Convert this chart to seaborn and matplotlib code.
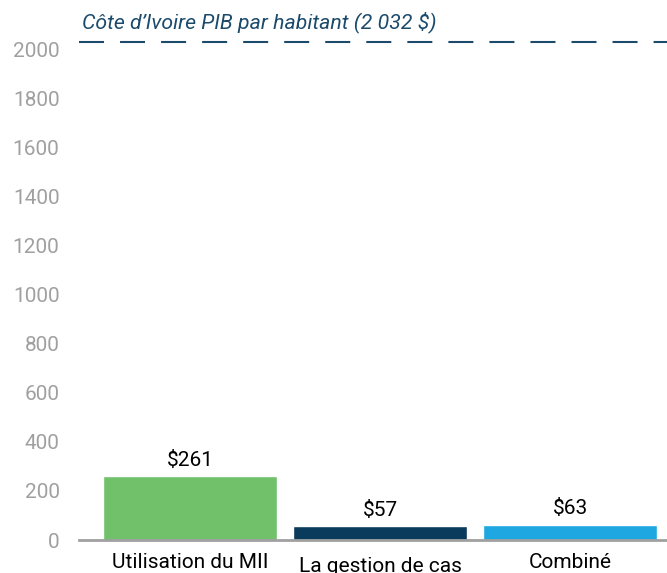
import numpy as np
import matplotlib
matplotlib.use('Agg')
import matplotlib.pyplot as plt
import matplotlib.transforms as mtransforms
import pandas as pd
import seaborn as sns

categories = ['Utilisation du MII', 'La gestion de cas', 'Combiné']
costs = [261, 57, 63]
bar_labels = ['$261', '$57', '$63']
gdp_per_capita = 2032
gdp_label = 'Côte d\u2019Ivoire PIB par habitant (2 032 $)'
yticks = [0, 200, 400, 600, 800, 1000, 1200, 1400, 1600, 1800, 2000]

colors = ['#70c16a', '#0a3a5c', '#1fa7e1']
navy = '#1b4a6b'
gray = '#a0a0a0'

sns.set_style('white')
plt.rcParams['font.family'] = ['Roboto', 'DejaVu Sans']

df = pd.DataFrame({'cat': categories, 'cost': costs})

fig = plt.figure(figsize=(6.67, 5.73), dpi=100)
ax = fig.add_axes([79/667, 1 - 540/573, 588/667, 540/573])

sns.barplot(data=df, x='cat', y='cost', hue='cat', palette=colors,
            width=0.915, legend=False, ax=ax, saturation=1)

ax.set_xlim(-0.584, 2.51)
ax.set_ylim(0, 2204)
ax.set_yticks(yticks)
ax.tick_params(axis='y', colors=gray, labelsize=15, length=0, pad=14)
ax.tick_params(axis='x', colors='black', labelsize=15, length=0, pad=9)
ax.set_xlabel('')
ax.set_ylabel('')
for s in ['top', 'right', 'left']:
    ax.spines[s].set_visible(False)
ax.spines['bottom'].set_color(gray)
ax.spines['bottom'].set_linewidth(2)

# middle label sits a little lower in the original
lbl = ax.get_xticklabels()[1]
lbl.set_transform(lbl.get_transform() + mtransforms.ScaledTranslation(0, -3/72, fig.dpi_scale_trans))

for i, (v, t) in enumerate(zip(costs, bar_labels)):
    ax.text(i, v + 25, t, ha='center', va='bottom', fontsize=15, color='black')

ax.axhline(gdp_per_capita, color=navy, lw=1.5, dashes=(12, 7.7))
ax.text(0.005, 2090, gdp_label, transform=ax.get_yaxis_transform(),
        ha='left', va='baseline', fontsize=15.3, style='italic', color=navy)

fig.savefig('out.png', dpi=100)
